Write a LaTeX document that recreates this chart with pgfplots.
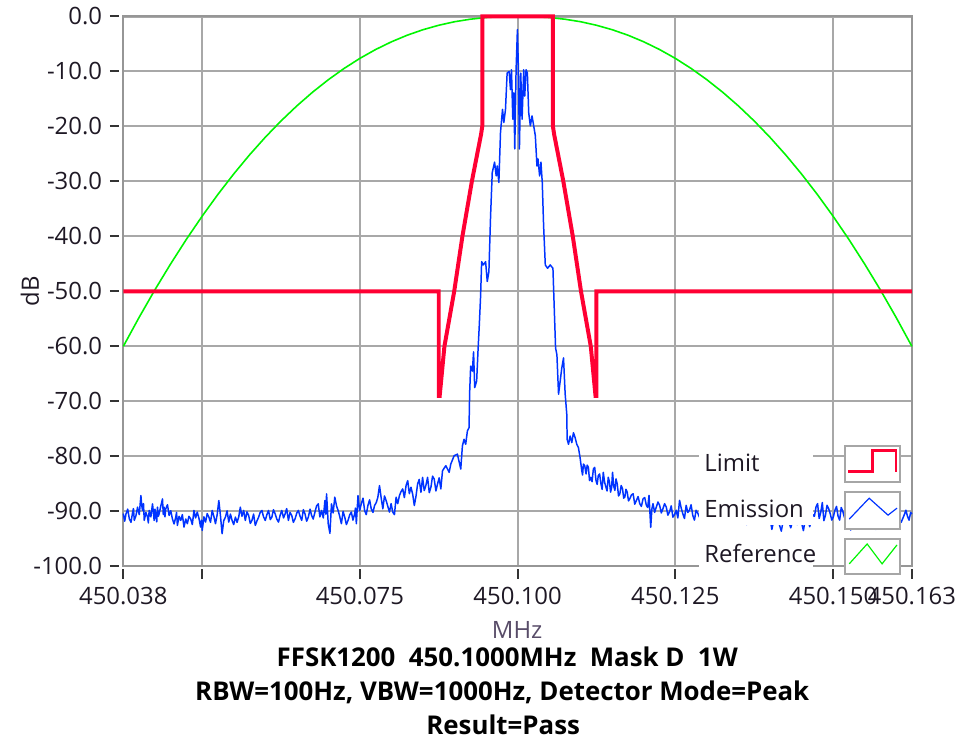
\documentclass[border=0pt]{standalone}
\usepackage{pgfplots}
\pgfplotsset{compat=1.18}
\usepackage{fontspec}
\setmainfont{Open Sans}

\definecolor{limitred}{RGB}{255,0,51}
\definecolor{emisblue}{RGB}{0,51,255}
\definecolor{refgreen}{RGB}{0,245,0}
\definecolor{gridgray}{RGB}{168,168,168}
\definecolor{framegray}{RGB}{150,150,150}
\definecolor{labeltext}{RGB}{30,24,36}
\definecolor{unitgray}{RGB}{88,76,104}

\newcommand\lv{\fontsize{12}{14}\selectfont}
\newcommand\ttl{\fontsize{13}{15}\selectfont\bfseries}

\begin{document}
\begin{tikzpicture}
% reference pixel frame (956 x 744), axis corner at px (124,569.5)
\begin{scope}[x=0.5pt,y=-0.5pt,shift={(-62pt,284.75pt)}]
  \path[use as bounding box] (0,0) rectangle (956,744);
\end{scope}

\begin{axis}[
  at={(0pt,0pt)}, anchor=south west,
  scale only axis, width=396.5pt, height=276.5pt,
  clip=false,
  xmin=-62.5, xmax=62.5, ymin=-100, ymax=0,
  % x is the offset from 450.1 MHz in kHz
  xtick={-62.5,-50,-25,0,25,50,62.5},
  xticklabels={450.038,,450.075,450.100,450.125,450.150,450.163},
  ytick={-100,-90,-80,-70,-60,-50,-40,-30,-20,-10,0},
  yticklabels={-100.0,-90.0,-80.0,-70.0,-60.0,-50.0,-40.0,-30.0,-20.0,-10.0,0.0},
  xtick pos=left, ytick pos=left,
  tick align=outside, major tick length=4.7pt,
  every tick/.style={black!80, line width=1pt},
  x tick style={yshift=-1.5pt},
  y tick style={xshift=-2pt},
  xticklabel style={font=\lv, text=labeltext, inner sep=0pt, anchor=north, yshift=-5.5pt},
  yticklabel style={font=\lv, text=labeltext, inner sep=0pt, anchor=east, xshift=-5.8pt},
  grid=major,
  major grid style={gridgray, line width=1.1pt},
  axis line style={framegray, line width=1pt},
]
% Reference
\addplot[refgreen, line width=0.8pt] coordinates {
(-62.5,-60) (-60,-54.74) (-57.5,-49.73) (-55,-45.01) (-52.5,-40.53) (-50,-36.32)
(-47.5,-32.36) (-45,-28.65) (-42.5,-25.19) (-40,-21.98) (-37.5,-19.01) (-35,-16.28)
(-32.5,-13.78) (-30,-11.51) (-27.5,-9.46) (-25,-7.63) (-22.5,-6.02) (-20,-4.62)
(-17.5,-3.42) (-15,-2.42) (-12.5,-1.61) (-10,-0.97) (-7.5,-0.51) (-5,-0.20)
(-2.5,-0.04) (0,0) (2.5,-0.04) (5,-0.20) (7.5,-0.51) (10,-0.97) (12.5,-1.61)
(15,-2.42) (17.5,-3.42) (20,-4.62) (22.5,-6.02) (25,-7.63) (27.5,-9.46)
(30,-11.51) (32.5,-13.78) (35,-16.28) (37.5,-19.01) (40,-21.98) (42.5,-25.19)
(45,-28.65) (47.5,-32.36) (50,-36.32) (52.5,-40.53) (55,-45.01) (57.5,-49.73)
(60,-54.74) (62.5,-60)
};
% Emission
\addplot[emisblue, line width=0.75pt, line join=round] coordinates {
(-62.5,-90.4) (-62.28,-91.8) (-62.07,-90.45) (-61.8,-89.6) (-61.55,-91.35) (-61.28,-92.0)
(-61.02,-90.14) (-60.89,-89.5) (-60.76,-91.65) (-60.5,-90.8) (-60.24,-89.24) (-59.97,-90.6)
(-59.71,-87.13) (-59.58,-88.9) (-59.45,-89.84) (-59.3,-88.6) (-59.18,-91.65) (-58.92,-90.2)
(-58.66,-91.05) (-58.53,-92.1) (-58.40,-89.84) (-58.13,-91.0) (-57.87,-88.64) (-57.74,-90.1)
(-57.61,-91.65) (-57.48,-89.6) (-57.35,-90.75) (-57.2,-91.9) (-57.08,-89.24) (-56.95,-90.9)
(-56.82,-90.45) (-56.55,-89.0) (-56.29,-87.74) (-56.16,-90.6) (-56.03,-89.24) (-55.9,-91.0)
(-55.77,-89.54) (-55.5,-88.8) (-55.24,-90.75) (-54.98,-89.9) (-54.72,-91.35) (-54.45,-92.3)
(-54.19,-91.05) (-54.06,-90.2) (-53.93,-92.56) (-53.66,-90.9) (-53.40,-91.65) (-53.14,-90.6)
(-52.88,-92.86) (-52.6,-91.4) (-52.35,-92.25) (-52.1,-90.9) (-51.83,-91.35) (-51.56,-92.4)
(-51.30,-89.84) (-51.04,-91.2) (-50.78,-90.14) (-50.5,-91.3) (-50.25,-92.86) (-50.1,-91.6)
(-49.99,-93.46) (-49.72,-91.0) (-49.46,-91.95) (-49.2,-90.4) (-48.94,-91.05) (-48.68,-92.0)
(-48.41,-89.84) (-48.15,-90.9) (-47.89,-92.25) (-47.62,-90.6) (-47.36,-88.03) (-47.1,-90.8)
(-46.84,-94.06) (-46.58,-91.7) (-46.31,-91.05) (-46.05,-89.9) (-45.78,-91.95) (-45.52,-90.5)
(-45.26,-91.65) (-45.0,-92.4) (-44.73,-91.05) (-44.47,-92.0) (-44.21,-91.05) (-43.95,-89.24)
(-43.7,-90.9) (-43.42,-89.84) (-43.16,-91.65) (-42.9,-90.1) (-42.63,-90.75) (-42.37,-92.2)
(-42.11,-91.65) (-41.85,-90.5) (-41.58,-92.56) (-41.3,-91.7) (-41.05,-91.05) (-40.8,-90.2)
(-40.53,-89.84) (-40.27,-91.0) (-40.00,-91.65) (-39.74,-90.6) (-39.48,-89.84) (-39.2,-91.5)
(-38.95,-91.05) (-38.7,-89.7) (-38.43,-90.45) (-38.17,-91.4) (-37.90,-91.95) (-37.64,-90.7)
(-37.38,-89.84) (-37.1,-91.2) (-36.85,-90.45) (-36.6,-89.5) (-36.33,-91.65) (-36.07,-90.2)
(-35.80,-90.75) (-35.54,-92.0) (-35.27,-91.35) (-35.0,-90.3) (-34.75,-89.84) (-34.48,-90.9)
(-34.22,-91.65) (-33.96,-89.7) (-33.70,-90.45) (-33.44,-91.8) (-33.17,-91.05) (-32.9,-89.6)
(-32.65,-90.75) (-32.4,-91.4) (-32.12,-90.14) (-31.86,-89.0) (-31.60,-88.64) (-31.34,-91.0)
(-31.07,-89.84) (-30.8,-91.2) (-30.54,-88.03) (-30.4,-90.5) (-30.28,-86.83) (-30.02,-92.25)
(-29.75,-94.0) (-29.5,-88.64) (-29.24,-90.3) (-28.98,-87.43) (-28.7,-89.0) (-28.45,-89.84)
(-28.2,-90.9) (-27.93,-92.25) (-27.66,-90.0) (-27.4,-91.05) (-27.14,-92.4) (-26.88,-91.65)
(-26.6,-90.6) (-26.35,-90.14) (-26.1,-91.6) (-25.83,-90.45) (-25.7,-89.4) (-25.56,-92.25)
(-25.3,-87.13) (-25.04,-89.9) (-24.78,-88.64) (-24.5,-87.6) (-24.25,-89.84) (-23.99,-90.6)
(-23.73,-88.94) (-23.46,-87.9) (-23.2,-89.54) (-22.93,-90.2) (-22.67,-88.94) (-22.4,-88.4)
(-22.15,-87.43) (-21.89,-85.32) (-21.62,-87.6) (-21.36,-89.54) (-21.1,-87.2) (-20.84,-88.03)
(-20.57,-89.1) (-20.31,-90.14) (-20.05,-88.6) (-19.79,-90.14) (-19.52,-90.6) (-19.26,-87.43)
(-19.0,-88.6) (-18.73,-87.13) (-18.47,-86.4) (-18.21,-85.92) (-17.95,-87.5) (-17.68,-85.32)
(-17.42,-84.42) (-17.16,-86.8) (-16.9,-85.62) (-16.63,-86.9) (-16.37,-88.94) (-16.1,-87.2)
(-15.85,-85.02) (-15.6,-84.2) (-15.32,-86.53) (-15.06,-83.82) (-14.8,-86.22) (-14.54,-85.3)
(-14.27,-83.82) (-14.0,-86.6) (-13.74,-85.62) (-13.48,-83.6) (-13.22,-84.12) (-12.95,-86.3)
(-12.69,-85.02) (-12.43,-83.9) (-12.17,-85.92) (-11.9,-82.61) (-11.38,-81.70) (-10.85,-82.91)
(-10.59,-81.4) (-10.06,-79.89) (-9.54,-79.6) (-9.01,-82.31) (-8.75,-78.1) (-8.49,-76.9)
(-8.23,-77.8) (-7.96,-75.4) (-7.7,-74.8) (-7.6,-68.4) (-7.44,-63.6) (-7.17,-64.5)
(-6.98,-61.0) (-6.8,-67.5) (-6.49,-66.3) (-6.28,-60.9) (-6.07,-56.1) (-5.86,-50.7)
(-5.7,-44.6) (-5.44,-45.2) (-5.07,-44.6) (-4.81,-48.2) (-4.55,-46.4) (-4.28,-36.2)
(-4.02,-28.4) (-3.65,-26.5) (-3.39,-29.0) (-3.23,-27.2) (-2.97,-30.2) (-2.71,-21.1)
(-2.39,-16.9) (-2.18,-19.3) (-1.92,-16.9) (-1.66,-10.3) (-1.34,-10.0) (-1.13,-13.3)
(-0.97,-9.7) (-0.76,-18.7) (-0.6,-13.9) (-0.45,-24.1) (-0.24,-9.7) (-0.03,-2.4)
(0.13,-9.7) (0.29,-24.1) (0.5,-10.3) (0.71,-18.7) (0.97,-9.7) (1.13,-14.5)
(1.34,-9.7) (1.55,-10.3) (1.76,-17.5) (2.02,-19.9) (2.29,-18.1) (2.55,-19.9)
(2.81,-21.7) (3.07,-27.2) (3.23,-25.9) (3.49,-29.0) (3.7,-26.5) (3.91,-30.2)
(4.12,-38.0) (4.39,-45.2) (4.75,-45.8) (5.17,-45.2) (5.6,-45.8) (5.81,-53.1)
(6.02,-60.3) (6.23,-61.5) (6.49,-68.7) (6.75,-66.3) (7.01,-63.9) (7.28,-62.1)
(7.54,-68.7) (7.8,-72.4) (7.85,-76.9) (8.07,-77.8) (8.33,-76.3) (8.59,-77.5)
(8.85,-75.7) (9.12,-76.6) (9.38,-77.8) (9.64,-78.4) (9.9,-80.2) (10.17,-82.6)
(10.3,-83.4) (10.43,-81.4) (10.64,-81.7) (10.85,-83.2) (11.03,-81.6) (11.22,-82.0)
(11.4,-84.4) (11.59,-83.8) (11.8,-84.6) (12.01,-82.3) (12.22,-82.0) (12.43,-84.4)
(12.61,-85.1) (12.79,-83.5) (13.0,-83.2) (13.21,-85.0) (13.4,-86.0) (13.58,-82.9)
(13.79,-84.7) (14.0,-85.6) (14.18,-86.3) (14.37,-83.8) (14.55,-84.6) (14.74,-86.5)
(14.9,-85.7) (15.05,-82.9) (15.23,-85.4) (15.42,-86.2) (15.6,-84.1) (15.79,-85.0)
(16.0,-87.2) (16.21,-86.8) (16.42,-85.3) (16.63,-85.9) (16.82,-87.6) (17.0,-87.4)
(17.18,-86.0) (17.37,-86.5) (17.58,-88.1) (17.79,-87.7) (18.05,-87.0) (18.31,-86.8)
(18.57,-88.7) (18.84,-88.0) (19.1,-87.3) (19.36,-88.6) (19.62,-89.1) (19.89,-87.7)
(20.15,-87.5) (20.41,-88.9) (20.62,-89.3) (20.83,-87.1) (21.1,-92.9) (21.28,-89.6)
(21.46,-88.6) (21.72,-90.2) (21.99,-89.2) (22.25,-88.3) (22.51,-88.9) (22.78,-90.3)
(23.04,-89.5) (23.3,-88.6) (23.56,-89.2) (23.82,-90.7) (24.09,-90.1) (24.35,-89.0)
(24.62,-91.05) (24.88,-90.6) (25.14,-89.8) (25.4,-91.2) (25.67,-88.0) (25.93,-89.4)
(26.19,-90.45) (26.45,-91.3) (26.72,-88.9) (26.98,-90.2) (27.24,-89.8) (27.5,-88.8)
(27.77,-90.75) (28.03,-91.6) (28.29,-89.8) (28.55,-90.3) (28.82,-91.05) (29.3,-90.2)
(29.8,-91.3) (30.3,-89.6) (30.8,-90.8) (31.3,-91.9) (31.8,-90.1) (32.3,-89.4)
(32.8,-91.0) (33.3,-90.4) (33.8,-92.0) (34.3,-90.6) (34.8,-89.7) (35.3,-91.4)
(35.8,-90.2) (36.3,-92.4) (36.8,-90.9) (37.3,-89.9) (37.8,-91.2) (38.3,-90.5)
(38.8,-91.8) (39.3,-90.3) (39.8,-89.5) (40.3,-93.3) (40.8,-90.6) (41.3,-91.7)
(41.8,-93.6) (42.3,-90.4) (42.8,-91.2) (43.3,-93.0) (43.8,-90.8) (44.3,-92.4)
(44.8,-91.0) (45.3,-93.5) (45.8,-90.2) (46.3,-92.8) (46.8,-90.6) (47.05,-90.9)
(47.3,-89.2) (47.55,-88.6) (47.8,-91.3) (48.05,-90.2) (48.3,-88.4) (48.55,-91.7)
(48.8,-90.7) (49.05,-88.9) (49.3,-89.5) (49.55,-90.4) (49.8,-91.6) (50.05,-91.0)
(50.3,-89.8) (50.55,-89.1) (50.8,-90.9) (51.05,-91.6) (51.3,-89.3) (51.55,-90.0)
(51.8,-91.1) (52.3,-90.4) (52.8,-93.4) (53.3,-90.8) (53.8,-91.5) (54.3,-89.9)
(54.8,-91.2) (55.3,-90.3) (55.8,-92.0) (56.3,-90.6) (56.8,-93.3) (57.3,-91.0)
(57.8,-90.1) (58.3,-91.7) (58.8,-90.5) (59.3,-91.3) (59.8,-90.2) (60.3,-91.8)
(60.8,-92.0) (61.05,-91.3) (61.3,-90.6) (61.55,-89.8) (61.8,-90.9) (62.05,-91.6)
(62.3,-90.2) (62.5,-90.5)
};
% Limit
\addplot[limitred, line width=2pt, line join=miter] coordinates {
(-62.5,-50) (-12.5,-50) (-12.5,-69) (-12.35,-69) (-11.6,-60) (-10.05,-50) (-8.75,-40)
(-7.25,-30) (-5.8,-21.5) (-5.6,-20) (-5.6,0) (5.6,0) (5.6,-20) (5.8,-21.5) (7.25,-30)
(8.75,-40) (10.05,-50) (11.6,-60) (12.35,-69) (12.5,-69) (12.5,-50) (62.5,-50)
};
\end{axis}

\begin{scope}[x=0.5pt,y=-0.5pt,shift={(-62pt,284.75pt)}]
  % axis titles
  \node[rotate=90, font=\lv, text=labeltext] at (30,293) {dB};
  \node[font=\lv, text=unitgray] at (520,634) {MHz};
  \node[anchor=base, font=\ttl] at (510,670) {FFSK1200\ \ 450.1000MHz\ \ Mask D\ \ 1W};
  \node[anchor=base, font=\ttl] at (505,704) {RBW=100Hz, VBW=1000Hz, Detector Mode=Peak};
  \node[anchor=base, font=\ttl] at (506,739) {Result=Pass};
  % legend
  \fill[white] (703,444) rectangle (818,487);
  \fill[white] (703,490) rectangle (818,528);
  \fill[white] (703,537) rectangle (818,580);
  \node[anchor=base west, font=\lv, text=labeltext, inner sep=0pt] at (708,474) {Limit};
  \node[anchor=base west, font=\lv, text=labeltext, inner sep=0pt] at (708,520) {Emission};
  \node[anchor=base west, font=\lv, text=labeltext, inner sep=0pt] at (708,566) {Reference};
  \draw[gray!70, line width=1pt, fill=white] (850,448) rectangle (905,485);
  \draw[gray!70, line width=1pt, fill=white] (850,495) rectangle (905,532);
  \draw[gray!70, line width=1pt, fill=white] (850,542) rectangle (905,577);
  \draw[limitred, line width=1.5pt] (853,474) -- (877,474) -- (877,453) -- (901,453) -- (901,475);
  \draw[emisblue, line width=0.6pt] (854,522) -- (874,501) -- (893,518) -- (902,511);
  \draw[refgreen, line width=0.6pt] (854,567) -- (872,547) -- (887,567) -- (902,548);
\end{scope}
\end{tikzpicture}
\end{document}
